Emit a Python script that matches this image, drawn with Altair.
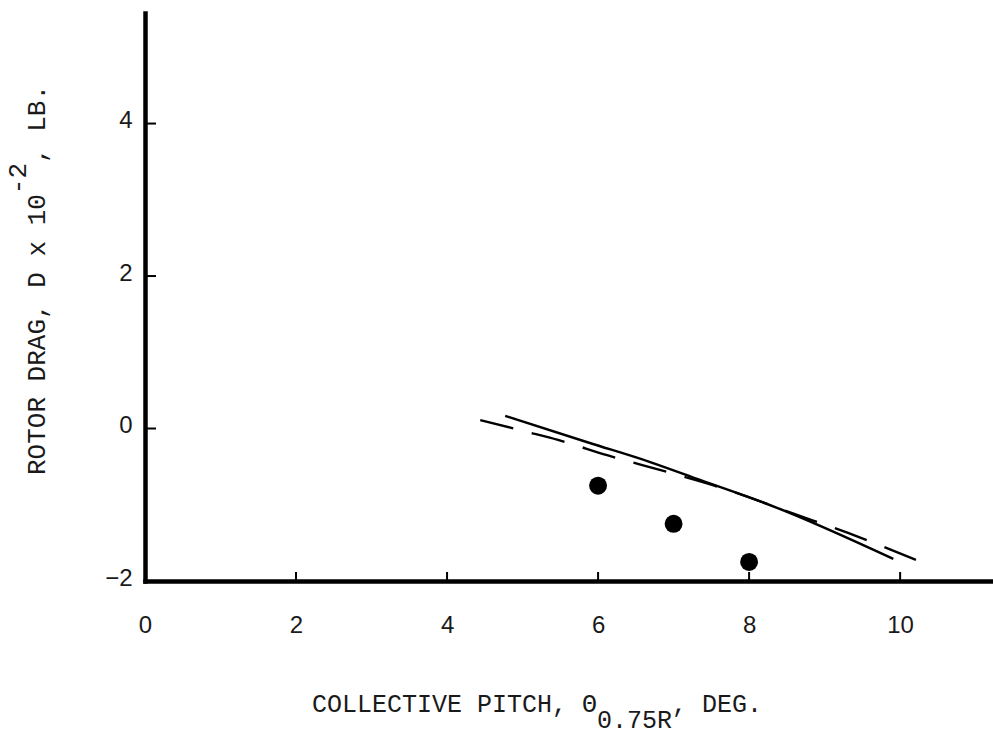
import altair as alt
import pandas as pd

# ---- data ----
solid_pitch = [4.77, 5.89, 6.69, 7.35, 8.37, 9.91]
solid_drag = [0.165, -0.19, -0.44, -0.675, -1.04, -1.71]

dashed_pitch = [4.44, 5.06, 5.47, 6.12, 6.95, 7.67, 8.57, 9.31, 10.25]
dashed_drag = [0.11, -0.045, -0.15, -0.35, -0.58, -0.79, -1.11, -1.37, -1.74]

point_pitch = [6, 7, 8]
point_drag = [-0.75, -1.25, -1.75]

x_ticks = [0, 2, 4, 6, 8, 10]
y_ticks = [-2, 0, 2, 4]

x_title_parts = ["COLLECTIVE PITCH, \u0398", "0.75R", ", DEG."]
y_title_parts = ["ROTOR DRAG, D x 10", "-2", ", LB."]

# ---- layout ----
W, H = 848, 568
INK = "#1a1a1a"

solid_df = pd.DataFrame({"pitch": solid_pitch, "drag": solid_drag})
dashed_df = pd.DataFrame({"pitch": dashed_pitch, "drag": dashed_drag})
points_df = pd.DataFrame({"pitch": point_pitch, "drag": point_drag})
xt_df = pd.DataFrame({"pitch": [t for t in x_ticks if t != 0], "drag": [-2] * 5})
yt_df = pd.DataFrame({"drag": [t for t in y_ticks if t != -2], "pitch": [0] * 3})

xscale = alt.Scale(domain=[0, 11.23], nice=False, zero=False)
yscale = alt.Scale(domain=[-2, 5.45], nice=False, zero=False)

xaxis = alt.Axis(values=x_ticks, title=None, grid=False, ticks=False,
                 domainWidth=4.5, domainColor="black", domainCap="square",
                 labelFont="Liberation Sans", labelFontSize=24, labelColor=INK,
                 labelPadding=32, labelFlush=False, labelOverlap=False)
yaxis = alt.Axis(values=y_ticks, title=None, grid=False, ticks=False,
                 domainWidth=4.5, domainColor="black", domainCap="square",
                 labelFont="Liberation Sans", labelFontSize=24, labelColor=INK,
                 labelPadding=13, labelOffset=-3, labelFlush=False, labelOverlap=False)

X = alt.X("pitch:Q", scale=xscale, axis=xaxis)
Y = alt.Y("drag:Q", scale=yscale, axis=yaxis)

solid = alt.Chart(solid_df).mark_line(color="black", strokeWidth=2.4, interpolate="monotone").encode(
    x=X, y=Y, order="pitch:Q")
dashed = alt.Chart(dashed_df).mark_line(color="black", strokeWidth=2.4, strokeDash=[34, 19],
                                         interpolate="monotone").encode(x=X, y=Y, order="pitch:Q")
points = alt.Chart(points_df).mark_point(filled=True, color="black", opacity=1, size=320, shape="circle").encode(
    x=X, y=Y)

xticks = alt.Chart(xt_df).mark_rule(color="black", strokeWidth=2).encode(
    x=X, y=alt.value(H), y2=alt.value(H - 9))
yticks = alt.Chart(yt_df).mark_rule(color="black", strokeWidth=2).encode(
    y=Y, x=alt.value(0), x2=alt.value(11))

# ---- titles (with sub/superscripts) ----
FX = 25
ADVX = FX * 0.6
xt_pos = [(167, 699), (167 + 19 * ADVX, 715), (167 + 24 * ADVX, 699)]
FY = 26
ADVY = FY * 0.6
yt_pos = [(-100, 462), (-119, 462 - 18 * ADVY), (-100, 462 - 20 * ADVY)]

title_layers = []
for txt, (px, py) in zip(x_title_parts, xt_pos):
    title_layers.append(
        alt.Chart(pd.DataFrame({"label": [txt]})).mark_text(
            font="Liberation Mono", fontSize=FX, color=INK, align="left", baseline="alphabetic"
        ).encode(text="label:N", x=alt.value(px), y=alt.value(py))
    )
for txt, (px, py) in zip(y_title_parts, yt_pos):
    title_layers.append(
        alt.Chart(pd.DataFrame({"label": [txt]})).mark_text(
            font="Liberation Mono", fontSize=FY, color=INK, align="left", baseline="alphabetic", angle=270
        ).encode(text="label:N", x=alt.value(px), y=alt.value(py))
    )

chart = alt.layer(solid, dashed, points, xticks, yticks, *title_layers).properties(
    width=W, height=H,
    autosize=alt.AutoSizeParams(type="none"),
    padding={"left": 145, "top": 13, "right": 0, "bottom": 158},
    background="white",
).configure_view(stroke=None)

chart.save("out.html", embed_options={"renderer": "svg", "actions": False})
